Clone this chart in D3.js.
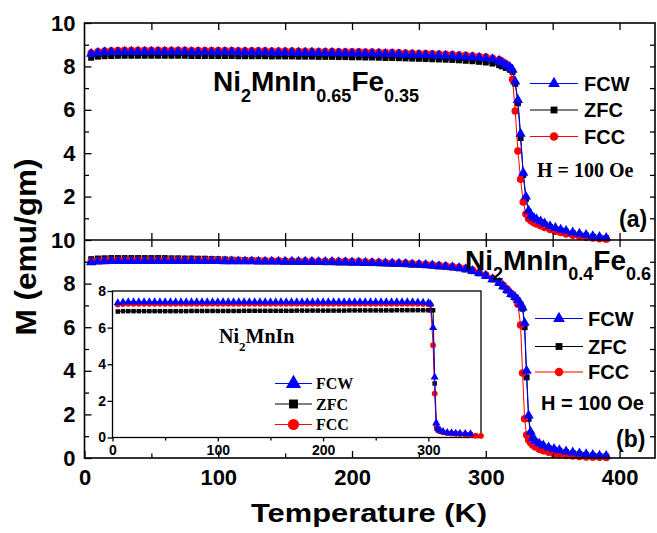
<!DOCTYPE html>
<html>
<head>
<meta charset="utf-8">
<script src="https://cdn.jsdelivr.net/npm/d3@7"></script>
<style>
body { margin: 0; background: #fff; }
svg { display: block; font-family: "Liberation Sans", Arial, sans-serif; font-weight: bold; }
</style>
</head>
<body>
<script>
// ---- data ----
var seriesNames = ["FCW", "ZFC", "FCC"];

// panel (a) Ni2MnIn0.65Fe0.35
var tempA = [5,10,15,20,25,30,35,40,45,50,
    55,60,65,70,75,80,85,90,95,100,
    105,110,115,120,125,130,135,140,145,150,
    155,160,165,170,175,180,185,190,195,200,
    205,210,215,220,225,230,235,240,245,250,
    255,260,265,270,275,280,285,290,295,300,
    305,310,
    312,315,318,320,322,324,326,328,330,332,334,336,338,341,344,348,352,356,360,365,370,375,380,385,390];
var fcwA = [8.58,8.63,8.65,8.66,8.66,8.67,8.67,8.67,8.67,8.67,
    8.67,8.67,8.67,8.67,8.67,8.66,8.66,8.66,8.66,8.66,
    8.66,8.66,8.65,8.65,8.65,8.65,8.65,8.64,8.64,8.64,
    8.64,8.63,8.63,8.63,8.62,8.62,8.62,8.61,8.61,8.60,
    8.60,8.59,8.59,8.58,8.57,8.57,8.56,8.55,8.54,8.53,
    8.52,8.51,8.50,8.49,8.48,8.46,8.44,8.42,8.40,8.37,
    8.33,8.26,
    8.18,8.08,7.97,7.85,7.3,6.45,4.9,3.1,2.0,1.35,1.12,1.02,0.95,0.86,0.76,0.64,0.55,0.48,0.42,0.35,0.29,0.23,0.18,0.14,0.1];
var zfcA = [8.40,8.45,8.47,8.48,8.49,8.49,8.49,8.49,8.49,8.49,
    8.49,8.49,8.49,8.49,8.49,8.48,8.48,8.48,8.48,8.48,
    8.48,8.48,8.47,8.47,8.47,8.47,8.47,8.46,8.46,8.46,
    8.46,8.45,8.45,8.45,8.44,8.44,8.44,8.43,8.43,8.42,
    8.42,8.41,8.41,8.40,8.39,8.39,8.38,8.37,8.36,8.35,
    8.34,8.33,8.32,8.31,8.30,8.28,8.26,8.24,8.21,8.18,
    8.13,8.06,
    8.0,7.93,7.85,7.75,7.2,6.3,4.7,3.0,1.9,1.3,1.08,0.98,0.91,0.82,0.72,0.6,0.51,0.44,0.38,0.31,0.25,0.2,0.15,0.11,0.08];
var fccA = [8.62,8.68,8.71,8.72,8.73,8.74,8.74,8.74,8.74,8.74,
    8.74,8.74,8.74,8.74,8.74,8.73,8.73,8.73,8.73,8.73,
    8.73,8.73,8.72,8.72,8.72,8.72,8.72,8.71,8.71,8.71,
    8.71,8.70,8.70,8.70,8.69,8.69,8.69,8.68,8.68,8.67,
    8.67,8.66,8.66,8.65,8.64,8.64,8.63,8.62,8.61,8.60,
    8.59,8.58,8.57,8.56,8.55,8.53,8.51,8.49,8.46,8.43,
    8.38,8.31,
    8.24,8.12,7.96,7.4,5.95,4.1,2.8,1.75,1.2,0.98,0.88,0.8,0.74,0.66,0.58,0.48,0.4,0.34,0.28,0.22,0.17,0.13,0.09,0.06,0.04];

// panel (b) Ni2MnIn0.4Fe0.6
var tempB = [5,10,15,20,25,30,35,40,45,50,
    55,60,65,70,75,80,85,90,95,100,
    105,110,115,120,125,130,135,140,145,150,
    155,160,165,170,175,180,185,190,195,200,
    205,210,215,220,225,230,235,240,245,250,
    255,260,265,270,275,280,285,290,295,300,
    305,310,
    313,316,319,322,324,326,327.5,329,330.5,332,333.5,335,337,340,343,347,351,355,360,365,370,375,380,385,390];
var fcwB = [8.98,9.01,9.02,9.03,9.03,9.03,9.03,9.03,9.03,9.03,
    9.03,9.03,9.03,9.03,9.03,9.03,9.03,9.03,9.03,9.03,
    9.02,9.02,9.02,9.02,9.02,9.01,9.01,9.01,9.01,9.00,
    9.00,9.00,9.00,9.00,8.99,8.99,8.99,8.98,8.98,8.97,
    8.97,8.96,8.95,8.94,8.93,8.92,8.91,8.90,8.88,8.87,
    8.85,8.83,8.80,8.78,8.75,8.71,8.66,8.58,8.48,8.36,
    8.20,8.04,
    7.88,7.7,7.52,7.38,7.25,7.08,6.9,6.2,4.0,1.95,1.2,0.92,0.78,0.66,0.57,0.48,0.41,0.36,0.3,0.25,0.21,0.17,0.14,0.11,0.09];
var zfcB = [9.12,9.15,9.16,9.17,9.17,9.17,9.17,9.17,9.17,9.17,
    9.17,9.17,9.16,9.16,9.15,9.15,9.14,9.14,9.13,9.12,
    9.11,9.10,9.09,9.08,9.07,9.06,9.05,9.04,9.03,9.02,
    9.01,9.00,9.00,8.99,8.99,8.98,8.98,8.97,8.97,8.96,
    8.96,8.95,8.94,8.93,8.92,8.91,8.90,8.89,8.87,8.86,
    8.84,8.82,8.79,8.77,8.74,8.70,8.65,8.57,8.47,8.35,
    8.19,8.03,
    7.86,7.68,7.5,7.36,7.22,7.04,6.85,6.0,3.7,1.8,1.1,0.88,0.75,0.63,0.54,0.45,0.38,0.33,0.27,0.22,0.18,0.14,0.11,0.09,0.07];
var fccB = [9.02,9.05,9.06,9.07,9.07,9.07,9.07,9.07,9.07,9.07,
    9.07,9.07,9.07,9.07,9.07,9.07,9.07,9.07,9.07,9.07,
    9.06,9.06,9.06,9.06,9.06,9.05,9.05,9.05,9.05,9.04,
    9.04,9.04,9.04,9.04,9.03,9.03,9.03,9.02,9.02,9.01,
    9.01,9.00,8.99,8.98,8.97,8.96,8.95,8.94,8.92,8.91,
    8.89,8.87,8.84,8.82,8.79,8.75,8.70,8.62,8.52,8.40,
    8.25,8.08,
    7.92,7.74,7.55,7.35,7.05,6.1,3.9,1.8,1.05,0.83,0.7,0.6,0.5,0.4,0.33,0.26,0.2,0.16,0.12,0.09,0.07,0.05,0.04,0.03,0.02];

// inset Ni2MnIn
var tempIn = [5,10,15,20,25,30,35,40,45,50,
    55,60,65,70,75,80,85,90,95,100,
    105,110,115,120,125,130,135,140,145,150,
    155,160,165,170,175,180,185,190,195,200,
    205,210,215,220,225,230,235,240,245,250,
    255,260,265,270,275,280,285,290,295,300,
    302,304.5,306,307.5,309,311,314,318,322,326,330,335,340];
var tempInFcc = tempIn.concat([345,350]);
var fcwIn = [7.35,7.39,7.40,7.40,7.40,7.40,7.40,7.40,7.40,7.40,
    7.40,7.40,7.40,7.40,7.40,7.40,7.40,7.40,7.40,7.40,
    7.40,7.40,7.40,7.40,7.40,7.40,7.40,7.40,7.40,7.40,
    7.40,7.40,7.40,7.40,7.40,7.40,7.40,7.40,7.40,7.40,
    7.40,7.40,7.40,7.40,7.40,7.40,7.40,7.40,7.40,7.40,
    7.40,7.40,7.40,7.40,7.40,7.40,7.40,7.39,7.38,7.36,
    7.3,6.0,3.3,0.8,0.5,0.4,0.32,0.27,0.25,0.23,0.22,0.21,0.2];
var zfcIn = [6.88,6.90,6.90,6.90,6.90,6.90,6.90,6.90,6.90,6.90,
    6.90,6.90,6.90,6.90,6.91,6.91,6.91,6.91,6.91,6.91,
    6.91,6.91,6.91,6.91,6.92,6.92,6.92,6.92,6.92,6.92,
    6.92,6.92,6.92,6.92,6.93,6.93,6.93,6.93,6.93,6.93,
    6.93,6.93,6.93,6.93,6.94,6.94,6.94,6.94,6.94,6.94,
    6.94,6.94,6.94,6.95,6.95,6.95,6.95,6.95,6.95,6.95,
    6.95,6.95,2.95,0.58,0.4,0.33,0.27,0.23,0.21,0.2,0.19,0.18,0.17];
var fccIn = [7.26,7.29,7.30,7.30,7.30,7.30,7.30,7.30,7.30,7.30,
    7.30,7.30,7.30,7.30,7.30,7.30,7.30,7.30,7.30,7.30,
    7.30,7.30,7.30,7.30,7.30,7.30,7.30,7.30,7.30,7.30,
    7.30,7.30,7.30,7.30,7.30,7.30,7.30,7.30,7.30,7.30,
    7.30,7.30,7.30,7.30,7.30,7.30,7.30,7.30,7.30,7.30,
    7.30,7.30,7.30,7.30,7.30,7.30,7.30,7.30,7.29,7.28,
    7.25,5.04,2.4,0.65,0.42,0.35,0.28,0.24,0.22,0.2,0.19,0.18,0.15,0.1,0.09];

var mainXTicks = [0, 100, 200, 300, 400];
var mainYTicksA = [2, 4, 6, 8, 10];
var mainYTicksB = [0, 2, 4, 6, 8, 10];
var insetXTicks = [0, 100, 200, 300];
var insetYTicks = [0, 2, 4, 6, 8];

// ---- layout ----
var width = 657, height = 533;
var colors = { FCW: "#0000ff", ZFC: "#000000", FCC: "#ff0000" };
var symbols = { FCW: d3.symbolTriangle, ZFC: d3.symbolSquare, FCC: d3.symbolCircle };
var sizes = { FCW: 46, ZFC: 36, FCC: 44 };

var svg = d3.select("body")
    .append("svg")
    .attr("width", width)
    .attr("height", height);

var x = d3.scaleLinear().domain([0, 426.5]).range([84.5, 655]);
var yA = d3.scaleLinear().domain([0, 10]).range([240, 23]);
var yB = d3.scaleLinear().domain([0, 10]).range([458, 240]);
var xIn = d3.scaleLinear().domain([0, 350]).range([112.5, 481]);
var yIn = d3.scaleLinear().domain([0, 8]).range([437.5, 291]);

function drawSeries(g, xs, ys, temps, values, name, size) {
    var pts = temps.map(function (t, i) { return [t, values[i]]; });
    g.append("path")
        .datum(pts)
        .attr("d", d3.line().x(function (d) { return xs(d[0]); }).y(function (d) { return ys(d[1]); }))
        .attr("fill", "none")
        .attr("stroke", colors[name])
        .attr("stroke-width", 1);
    g.selectAll(null)
        .data(pts)
        .enter().append("path")
        .attr("transform", function (d) { return "translate(" + xs(d[0]) + "," + ys(d[1]) + ")"; })
        .attr("d", d3.symbol().type(symbols[name]).size(size || sizes[name]))
        .attr("fill", colors[name]);
}

function styleAxis(g, fontSize, family) {
    g.select(".domain").remove();
    g.selectAll("line").attr("stroke", "#000").attr("stroke-width", 1.3);
    g.selectAll("text")
        .attr("fill", "#000")
        .style("font-size", fontSize + "px")
        .style("font-weight", "bold")
        .style("font-family", family || "'Liberation Sans', Arial, sans-serif");
    g.attr("font-family", null).attr("font-size", null);
}

function tickAxis(axis, values, size, transform) {
    var g = svg.append("g").attr("transform", transform)
        .call(axis.tickValues(values).tickSize(size).tickSizeOuter(0).tickFormat(""));
    styleAxis(g, 10);
    return g;
}

var fifties = [50, 100, 150, 200, 250, 300, 350, 400];

// ---- panel (a) ----
var gA = svg.append("g");
drawSeries(gA, x, yA, tempA, zfcA, "ZFC");
drawSeries(gA, x, yA, tempA, fccA, "FCC");
drawSeries(gA, x, yA, tempA, fcwA, "FCW");

// ---- panel (b) ----
var gB = svg.append("g");
drawSeries(gB, x, yB, tempB, zfcB, "ZFC");
drawSeries(gB, x, yB, tempB, fccB, "FCC");
drawSeries(gB, x, yB, tempB, fcwB, "FCW");

// ---- frames and ticks of main plot ----
svg.append("rect").attr("x", 84.5).attr("y", 23).attr("width", 570.5).attr("height", 435)
    .attr("fill", "none").attr("stroke", "#000").attr("stroke-width", 1.6);
svg.append("line").attr("x1", 84.5).attr("x2", 655).attr("y1", 240).attr("y2", 240)
    .attr("stroke", "#000").attr("stroke-width", 1.6);

var axA = svg.append("g").attr("transform", "translate(84.5,0)")
    .call(d3.axisLeft(yA).tickValues(mainYTicksA).tickSize(-7).tickSizeOuter(0).tickPadding(9).tickFormat(d3.format("d")));
styleAxis(axA, 22);
tickAxis(d3.axisLeft(yA), [1, 3, 5, 7, 9], -4.5, "translate(84.5,0)");
var axB = svg.append("g").attr("transform", "translate(84.5,0)")
    .call(d3.axisLeft(yB).tickValues(mainYTicksB).tickSize(-7).tickSizeOuter(0).tickPadding(9).tickFormat(d3.format("d")));
styleAxis(axB, 22);
tickAxis(d3.axisLeft(yB), [1, 3, 5, 7, 9], -4.5, "translate(84.5,0)");
tickAxis(d3.axisRight(yA), [1, 2, 3, 4, 5, 6, 7, 8, 9], -5, "translate(655,0)");
tickAxis(d3.axisRight(yB), [1, 2, 3, 4, 5, 6, 7, 8, 9], -5, "translate(655,0)");
tickAxis(d3.axisTop(x), fifties, -7, "translate(0,23)");
tickAxis(d3.axisBottom(x), fifties, -7, "translate(0,240)");
tickAxis(d3.axisTop(x), fifties, -7, "translate(0,240)");

var axX = svg.append("g").attr("transform", "translate(0,458)")
    .call(d3.axisBottom(x).tickValues(mainXTicks).tickSize(-7).tickSizeOuter(0).tickPadding(11).tickFormat(d3.format("d")));
styleAxis(axX, 22);
tickAxis(d3.axisBottom(x), [50, 150, 250, 350], -4.5, "translate(0,458)");

// ---- inset ----
var gIn = svg.append("g");
gIn.append("rect").attr("x", 112.5).attr("y", 291).attr("width", 368.5).attr("height", 146.5)
    .attr("fill", "#fff").attr("stroke", "#000").attr("stroke-width", 1.3);
drawSeries(gIn, xIn, yIn, tempIn, zfcIn, "ZFC", 20);
drawSeries(gIn, xIn, yIn, tempInFcc, fccIn, "FCC", 26);
drawSeries(gIn, xIn, yIn, tempIn, fcwIn, "FCW", 28);

var axInY = svg.append("g").attr("transform", "translate(112.5,0)")
    .call(d3.axisLeft(yIn).tickValues(insetYTicks).tickSize(5).tickSizeOuter(0).tickPadding(1.5).tickFormat(d3.format("d")));
styleAxis(axInY, 14);
var axInX = svg.append("g").attr("transform", "translate(0,437.5)")
    .call(d3.axisBottom(xIn).tickValues(insetXTicks).tickSize(4).tickSizeOuter(0).tickPadding(3.5).tickFormat(d3.format("d")));
styleAxis(axInX, 14);
var minInX = svg.append("g").attr("transform", "translate(0,437.5)")
    .call(d3.axisBottom(xIn).tickValues([50, 150, 250]).tickSize(3).tickSizeOuter(0).tickFormat(""));
styleAxis(minInX, 10);

// ---- labels ----
function formula(parent, px, py, parts, big, small, shift, family) {
    var t = parent.append("text").attr("x", px).attr("y", py)
        .style("font-family", family || "'Liberation Sans', Arial, sans-serif")
        .style("font-weight", "bold");
    var down = false;
    parts.forEach(function (p) {
        var sub = p[1];
        var dy = 0;
        if (sub && !down) { dy = shift; down = true; }
        else if (!sub && down) { dy = -shift; down = false; }
        t.append("tspan").attr("dy", dy).style("font-size", (sub ? small : big) + "px").text(p[0]);
    });
    return t;
}

formula(svg, 213, 91, [["Ni", 0], ["2", 1], ["MnIn", 0], ["0.65", 1], ["Fe", 0], ["0.35", 1]], 28, 18, 11);
formula(svg, 465, 269.5, [["Ni", 0], ["2", 1], ["MnIn", 0], ["0.4", 1], ["Fe", 0], ["0.6", 1]], 28, 18, 10);
formula(svg, 219, 342.5, [["Ni", 0], ["2", 1], ["MnIn", 0]], 20, 13, 8, "'Liberation Serif', 'Times New Roman', serif");

function legend(px0, px1, rows, textX, fontSize, family, markerScale) {
    seriesNames.forEach(function (name, i) {
        var yy = rows[i];
        svg.append("line").attr("x1", px0).attr("x2", px1).attr("y1", yy).attr("y2", yy)
            .attr("stroke", colors[name]).attr("stroke-width", 1.2);
        svg.append("path")
            .attr("transform", "translate(" + ((px0 + px1) / 2) + "," + yy + ")")
            .attr("d", d3.symbol().type(symbols[name]).size(sizes[name] * markerScale))
            .attr("fill", colors[name]);
        svg.append("text").attr("x", textX).attr("y", yy).attr("dy", "0.36em")
            .style("font-size", fontSize + "px")
            .style("font-family", family || "'Liberation Sans', Arial, sans-serif")
            .text(name);
    });
}

legend(530, 578, [83.5, 110, 136.5], 584, 20, null, 1.3);
legend(535, 583, [318.5, 346.5, 372], 588, 20, null, 1.3);
legend(275, 312, [383.5, 404, 424.5], 316, 16, "'Liberation Serif', 'Times New Roman', serif", 2.2);

svg.append("text").attr("x", 537).attr("y", 177)
    .style("font-size", "20px").style("font-family", "'Liberation Serif', 'Times New Roman', serif")
    .text("H = 100 Oe");
svg.append("text").attr("x", 541).attr("y", 410)
    .style("font-size", "20px")
    .text("H = 100 Oe");
svg.append("text").attr("x", 619).attr("y", 227).style("font-size", "23px").text("(a)");
svg.append("text").attr("x", 616).attr("y", 447).style("font-size", "23px").text("(b)");

svg.append("text")
    .attr("transform", "translate(36,247) rotate(-90)")
    .attr("text-anchor", "middle")
    .attr("textLength", 177)
    .attr("lengthAdjust", "spacingAndGlyphs")
    .style("font-size", "29px")
    .text("M (emu/gm)");
svg.append("text")
    .attr("x", 369).attr("y", 522)
    .attr("text-anchor", "middle")
    .attr("textLength", 236)
    .attr("lengthAdjust", "spacingAndGlyphs")
    .style("font-size", "26px")
    .text("Temperature (K)");
</script>
</body>
</html>
